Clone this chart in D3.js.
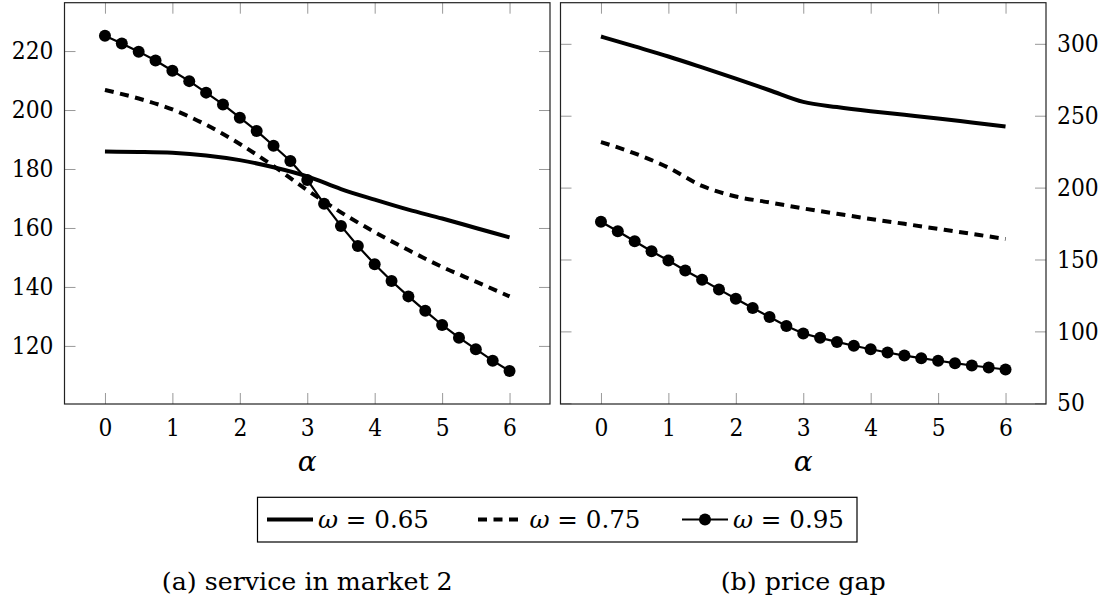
<!DOCTYPE html>
<html>
<head>
<meta charset="utf-8">
<script src="https://cdn.jsdelivr.net/npm/d3@7"></script>
<style>
  body { margin: 0; background: #fff; }
  svg { display: block; }
</style>
</head>
<body>
<div id="wrapper"></div>
<script>
// alpha grids
const alphaHalf = [0, 0.5, 1, 1.5, 2, 2.5, 3, 3.5, 4, 4.5, 5, 5.5, 6];
const alphaQuarter = [0, 0.25, 0.5, 0.75, 1, 1.25, 1.5, 1.75, 2, 2.25, 2.5, 2.75, 3,
                      3.25, 3.5, 3.75, 4, 4.25, 4.5, 4.75, 5, 5.25, 5.5, 5.75, 6];
const alphaTicks = [0, 1, 2, 3, 4, 5, 6];

// (a) service in market 2
const serviceTicks = [120, 140, 160, 180, 200, 220];
const serviceW065 = [185.9, 185.8, 185.5, 184.6, 183.0, 180.6, 177.5, 173.2, 169.6, 166.2, 163.2, 160.0, 156.8];
const serviceW075 = [206.8, 203.9, 200.2, 195.0, 188.5, 181.0, 172.8, 165.3, 158.6, 152.5, 146.8, 141.8, 136.8];
const serviceW095 = [225.2, 222.6, 219.8, 216.8, 213.3, 209.8, 205.9, 201.9, 197.4, 192.9, 187.9, 182.7, 176.3,
                     168.2, 160.7, 153.9, 147.7, 142.0, 136.8, 131.9, 127.1, 122.8, 118.9, 115.0, 111.5];

// (b) price gap
const gapTicks = [50, 100, 150, 200, 250, 300];
const gapW065 = [305.1, 298.2, 291.2, 283.6, 275.8, 267.7, 259.6, 256.0, 253.1, 250.6, 248.1, 245.3, 242.5];
const gapW075 = [231.7, 223.8, 213.9, 201.2, 193.8, 189.7, 185.5, 181.8, 178.2, 174.8, 171.3, 167.8, 164.3];
const gapW095 = [176.2, 169.6, 162.7, 155.7, 149.3, 142.3, 135.9, 129.2, 122.7, 116.3, 110.0, 103.8, 98.5,
                 95.5, 92.7, 90.0, 87.6, 85.3, 83.2, 81.4, 79.6, 77.9, 76.3, 74.9, 73.5];

const legendLabels = ["0.65", "0.75", "0.95"];

const serifStack = "'DejaVu Serif', 'Liberation Serif', 'Times New Roman', serif"

const dimensions = {
  width: 1111,
  height: 606,
  top: 2.7,
  bottom: 404,
  tick: 11,
  fontSize: 24,
  digitWidth: 13.9,
}

const styles = [
  { width: 4, dash: null, dots: false },
  { width: 4, dash: "9,6.5", dots: false },
  { width: 2.2, dash: null, dots: true },
]

const wrapper = d3.select("#wrapper")
  .append("svg")
  .attr("width", dimensions.width)
  .attr("height", dimensions.height)

const panels = [
  {
    left: 64.5, right: 550,
    yDomain: [100.3, 236.4], yTicks: serviceTicks, labelSide: "left",
    series: [[alphaHalf, serviceW065], [alphaHalf, serviceW075], [alphaQuarter, serviceW095]],
    caption: "(a) service in market 2", captionWidth: 291,
  },
  {
    left: 560.5, right: 1046,
    yDomain: [49.5, 328.6], yTicks: gapTicks, labelSide: "right",
    series: [[alphaHalf, gapW065], [alphaHalf, gapW075], [alphaQuarter, gapW095]],
    caption: "(b) price gap", captionWidth: 165,
  },
]

const styleAxis = (sel) => {
  sel.select(".domain").remove()
  sel.attr("font-size", dimensions.fontSize)
  sel.selectAll(".tick line").attr("stroke", "#999").attr("stroke-width", 1)
  sel.selectAll(".tick text")
    .attr("fill", "#000")
    .each(function () {
      const s = d3.select(this).text()
      if (s) d3.select(this)
        .attr("textLength", s.length * dimensions.digitWidth)
        .attr("lengthAdjust", "spacingAndGlyphs")
    })
}

const drawPanel = (p) => {
  const xScale = d3.scaleLinear().domain([-0.6, 6.6]).range([p.left, p.right])
  const yScale = d3.scaleLinear().domain(p.yDomain).range([dimensions.bottom, dimensions.top])
  const bounds = wrapper.append("g")
  const numFmt = d3.format("d")

  // ticks on all four sides, pointing inside
  bounds.append("g")
    .attr("transform", `translate(0,${dimensions.bottom})`)
    .call(d3.axisBottom(xScale).tickValues(alphaTicks).tickSize(-dimensions.tick).tickPadding(15).tickFormat(numFmt))
    .call(styleAxis)
  bounds.append("g")
    .attr("transform", `translate(0,${dimensions.top})`)
    .call(d3.axisTop(xScale).tickValues(alphaTicks).tickSize(-dimensions.tick).tickFormat(""))
    .call(styleAxis)
  bounds.append("g")
    .attr("transform", `translate(${p.left},0)`)
    .call(d3.axisLeft(yScale).tickValues(p.yTicks).tickSize(-dimensions.tick).tickPadding(11)
      .tickFormat(p.labelSide === "left" ? numFmt : ""))
    .call(styleAxis)
  bounds.append("g")
    .attr("transform", `translate(${p.right},0)`)
    .call(d3.axisRight(yScale).tickValues(p.yTicks).tickSize(-dimensions.tick).tickPadding(11)
      .tickFormat(p.labelSide === "right" ? numFmt : ""))
    .call(styleAxis)

  // frame
  bounds.append("rect")
    .attr("x", p.left)
    .attr("y", dimensions.top)
    .attr("width", p.right - p.left)
    .attr("height", dimensions.bottom - dimensions.top)
    .attr("fill", "none")
    .attr("stroke", "#222")
    .attr("stroke-width", 1.2)

  // series
  p.series.forEach(([xs, ys], i) => {
    const st = styles[i]
    const pts = xs.map((x, j) => [x, ys[j]])
    const line = d3.line()
      .x(d => xScale(d[0]))
      .y(d => yScale(d[1]))
      .curve(st.dots ? d3.curveLinear : d3.curveMonotoneX)
    bounds.append("path")
      .datum(pts)
      .attr("d", line)
      .attr("fill", "none")
      .attr("stroke", "#000")
      .attr("stroke-width", st.width)
      .attr("stroke-dasharray", st.dash)
    if (st.dots) {
      bounds.selectAll(null)
        .data(pts)
        .enter()
        .append("circle")
        .attr("cx", d => xScale(d[0]))
        .attr("cy", d => yScale(d[1]))
        .attr("r", 6)
        .attr("fill", "#000")
    }
  })

  const mid = (p.left + p.right) / 2
  bounds.append("text")
    .attr("x", mid)
    .attr("y", 471)
    .attr("text-anchor", "middle")
    .style("font-style", "italic")
    .style("font-size", "28px")
    .text("α")

  bounds.append("text")
    .attr("x", mid)
    .attr("y", 590)
    .attr("text-anchor", "middle")
    .attr("textLength", p.captionWidth)
    .attr("lengthAdjust", "spacingAndGlyphs")
    .style("font-size", dimensions.fontSize + "px")
    .text(p.caption)
}

panels.forEach(drawPanel)

// legend
const legend = wrapper.append("g")
legend.append("rect")
  .attr("x", 257.5).attr("y", 497.3)
  .attr("width", 599.5).attr("height", 44.7)
  .attr("fill", "#fff").attr("stroke", "#000").attr("stroke-width", 1.2)

const legendLineX = [267, 478, 682]
const legendTextX = [318, 529.5, 733]
const legendY = 519.5
legendLabels.forEach((lab, i) => {
  const st = styles[i]
  const x0 = legendLineX[i]
  legend.append("line")
    .attr("x1", x0).attr("x2", x0 + (st.dash ? 40.5 : 46))
    .attr("y1", legendY).attr("y2", legendY)
    .attr("stroke", "#000")
    .attr("stroke-width", st.width)
    .attr("stroke-dasharray", st.dash)
  if (st.dots) {
    legend.append("circle").attr("cx", x0 + 23).attr("cy", legendY).attr("r", 6).attr("fill", "#000")
  }
  const t = legend.append("text")
    .attr("x", legendTextX[i])
    .attr("y", 527.5)
    .attr("textLength", 111)
    .attr("lengthAdjust", "spacingAndGlyphs")
    .style("font-size", dimensions.fontSize + "px")
  t.append("tspan").style("font-style", "italic").text("ω")
  t.append("tspan").text(" = " + lab)
})

// serif everywhere, set inline so nothing overrides it
wrapper.selectAll("text")
  .style("font-family", serifStack)
  .attr("fill", "#000")
</script>
</body>
</html>
